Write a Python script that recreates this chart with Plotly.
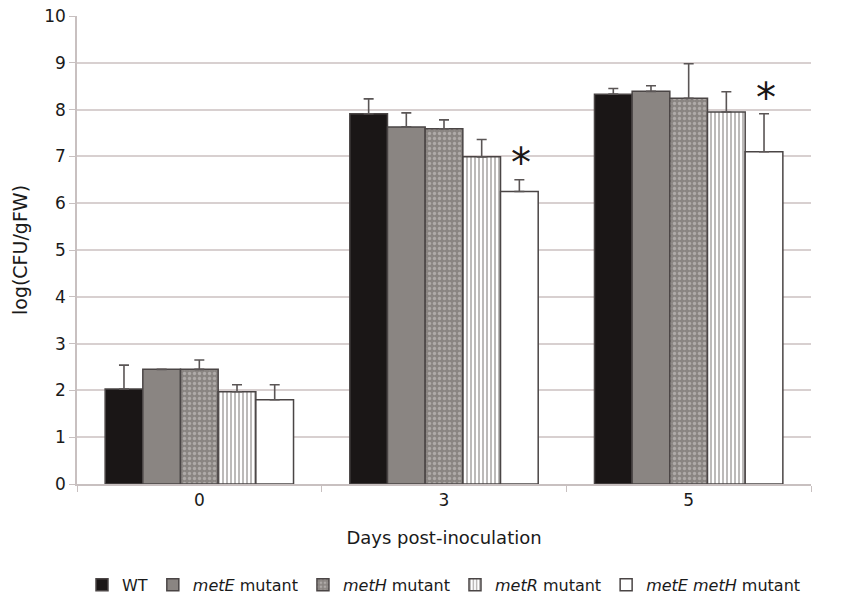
import plotly.graph_objects as go

days = ["0", "3", "5"]
series_names = ["WT", "<i>metE</i> mutant", "<i>metH</i> mutant", "<i>metR</i> mutant", "<i>metE metH</i> mutant"]
wt = [2.03, 7.91, 8.33]
wt_err = [0.51, 0.32, 0.12]
metE = [2.45, 7.63, 8.39]
metE_err = [0.0, 0.30, 0.12]
metH = [2.45, 7.59, 8.24]
metH_err = [0.20, 0.19, 0.74]
metR = [1.97, 6.99, 7.95]
metR_err = [0.15, 0.37, 0.43]
metEH = [1.80, 6.25, 7.10]
metEH_err = [0.32, 0.25, 0.81]
star_days = ["3", "5"]
star_y = [6.99, 8.38]

values = [wt, metE, metH, metR, metEH]
errors = [wt_err, metE_err, metH_err, metR_err, metEH_err]

colors = ["#1a1616", "#8a8582", "#8a8582", "#ffffff", "#ffffff"]
patterns = [
    None,
    None,
    dict(shape=".", bgcolor="#8a8582", fgcolor="#d4d0ce", size=5, solidity=0.35),
    dict(shape="|", bgcolor="#ffffff", fgcolor="#6a6564", size=4, solidity=0.45),
    None,
]
outline = "#4a4545"
font_family = "DejaVu Sans, Verdana, sans-serif"

fig = go.Figure()
for name, vals, errs, col, pat in zip(series_names, values, errors, colors, patterns):
    marker = dict(color=col, line=dict(color=outline, width=1.5))
    if pat is not None:
        marker["pattern"] = pat
    fig.add_trace(go.Bar(
        name=name, x=days, y=vals, marker=marker,
        error_y=dict(type="data", symmetric=False, array=errs,
                     arrayminus=[0] * len(errs), color="#5a5555",
                     thickness=1.6, width=5),
    ))

for d, yv in zip(star_days, star_y):
    fig.add_annotation(x=days.index(d), y=yv, xref="x", yref="y", text="*", showarrow=False,
                       xshift=77, yshift=-6,
                       font=dict(size=40, color="#1a1616", family=font_family))

fig.update_layout(
    width=851, height=598,
    margin=dict(l=77, r=40, t=16, b=114),
    paper_bgcolor="white", plot_bgcolor="white",
    barmode="group", bargap=0.23, bargroupgap=0,
    font=dict(family=font_family, size=16, color="#1a1a1a"),
    showlegend=True,
    legend=dict(orientation="h", xref="paper", yref="container",
                x=0.5, xanchor="center", y=0.022, yanchor="middle",
                font=dict(size=16, color="#1a1a1a"),
                itemwidth=30, traceorder="normal", tracegroupgap=0),
    xaxis=dict(type="category", range=[-0.5, 2.5], automargin=False,
               showline=True, linecolor="#c8c0c0", linewidth=1.5,
               ticks="outside", tickson="boundaries", ticklen=6, tickcolor="#c8c0c0",
               showgrid=False, zeroline=False,
               title=dict(text="Days post-inoculation", font=dict(size=18), standoff=22),
               tickfont=dict(size=17)),
    yaxis=dict(range=[0, 10], dtick=1, automargin=False, ticklabeloverflow="allow",
               showline=True, linecolor="#c8c0c0", linewidth=1.5,
               ticks="outside", ticklen=6, tickcolor="#c8c0c0",
               showgrid=True, gridcolor="#d8d0d0", gridwidth=1.5, zeroline=False,
               title=dict(text="log(CFU/gFW)", font=dict(size=19), standoff=12),
               tickfont=dict(size=17)),
)

fig.write_html("out.html", config={"displayModeBar": False},
               post_script="document.body.style.margin='0';")
